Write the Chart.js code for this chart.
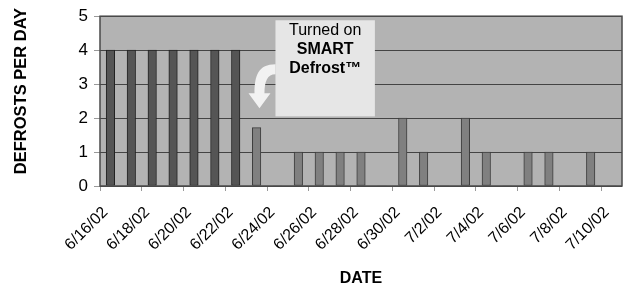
<!DOCTYPE html>
<html lang="en">
<head>
  <meta charset="utf-8" />
  <title>Defrosts per day</title>
  <script src="https://cdn.jsdelivr.net/npm/chart.js"></script>
  <style>
    * { box-sizing: border-box; margin: 0; padding: 0; }
    body { background: #fff; width: 623px; height: 288px; overflow: hidden; }
    #wrap { position: relative; width: 623px; height: 288px; }
  </style>
</head>
<body>
  <div id="wrap"><canvas id="chart"></canvas></div>

  <script>
    const dates = [
      '6/16/02', '6/17/02', '6/18/02', '6/19/02', '6/20/02', '6/21/02', '6/22/02',
      '6/23/02', '6/24/02', '6/25/02', '6/26/02', '6/27/02', '6/28/02', '6/29/02',
      '6/30/02', '7/1/02', '7/2/02', '7/3/02', '7/4/02', '7/5/02', '7/6/02',
      '7/7/02', '7/8/02', '7/9/02', '7/10/02'
    ];
    const defrosts = [4, 4, 4, 4, 4, 4, 4, 1.72, 0, 1, 1, 1, 1, 0, 2, 1, 0, 2, 1, 0, 1, 1, 0, 1, 0];
    const smartStart = 7; // first day with SMART Defrost on
    const yTicks = [0, 1, 2, 3, 4, 5];
    const noteLines = ['Turned on', 'SMART', 'Defrost™'];

    const FONT = '"Liberation Sans", Arial, sans-serif';

    // plot background, border, y title and the callout box
    const decor = {
      id: 'decor',
      beforeDraw(chart) {
        const { ctx, chartArea: a } = chart;
        ctx.save();
        ctx.fillStyle = '#b3b3b3';
        ctx.fillRect(a.left, a.top, a.right - a.left, a.bottom - a.top);
        ctx.restore();
      },
      afterDraw(chart) {
        const { ctx, chartArea: a, scales: { x, y } } = chart;
        ctx.save();
        ctx.strokeStyle = '#4a4a4a';
        ctx.lineWidth = 1.5;
        ctx.strokeRect(a.left, a.top, a.right - a.left, a.bottom - a.top);

        // y title
        ctx.translate(21, 91);
        ctx.rotate(-Math.PI / 2);
        ctx.fillStyle = '#000';
        ctx.font = 'bold 16.5px ' + FONT;
        ctx.textAlign = 'center';
        ctx.textBaseline = 'middle';
        ctx.fillText('DEFROSTS PER DAY', 0, 0);
        ctx.restore();

        // callout
        const bl = x.getPixelForValue(8) - 2;
        const br = x.getPixelForValue(13) - 7;
        const bt = y.getPixelForValue(4.88);
        const bb = y.getPixelForValue(2.05);
        ctx.save();
        ctx.fillStyle = '#e6e6e6';
        ctx.fillRect(bl, bt, br - bl, bb - bt);

        ctx.fillStyle = '#000';
        ctx.textAlign = 'center';
        ctx.textBaseline = 'middle';
        const cx = (bl + br) / 2;
        noteLines.forEach((t, i) => {
          ctx.font = (i === 0 ? '' : 'bold ') + '16px ' + FONT;
          ctx.fillText(t, cx, bt + 10 + i * 19);
        });

        // curved arrow
        ctx.fillStyle = '#f2f2f2';
        ctx.beginPath();
        ctx.moveTo(bl, bt + 44);
        ctx.bezierCurveTo(bl - 17, bt + 44, bl - 21, bt + 55, bl - 21, bt + 73);
        ctx.lineTo(bl - 27, bt + 73);
        ctx.lineTo(bl - 16, bt + 88);
        ctx.lineTo(bl - 5, bt + 73);
        ctx.lineTo(bl - 11, bt + 73);
        ctx.bezierCurveTo(bl - 11, bt + 61, bl - 8, bt + 54, bl, bt + 54);
        ctx.closePath();
        ctx.fill();
        ctx.restore();
      }
    };

    new Chart('chart', {
      type: 'bar',
      data: {
        labels: dates,
        datasets: [{
          data: defrosts,
          backgroundColor: defrosts.map((v, i) => i < smartStart ? '#555555' : '#808080'),
          borderColor: defrosts.map((v, i) => i < smartStart ? '#222222' : '#3c3c3c'),
          borderWidth: defrosts.map(v => v ? 1 : 0),
          borderSkipped: false,
          barThickness: 8.5
        }]
      },
      options: {
        responsive: true,
        maintainAspectRatio: false,
        animation: false,
        layout: { padding: { top: 12, right: 1, bottom: 0, left: 0 } },
        plugins: { legend: { display: false }, tooltip: { enabled: false } },
        scales: {
          x: {
            offset: true,
            afterFit: s => { s.height = 102; s.paddingLeft = 0; s.paddingRight = 0; },
            grid: {
              offset: true,
              drawOnChartArea: false,
              tickLength: 5,
              tickColor: ctx => ctx.index % 2 === 0 ? '#999999' : 'rgba(0,0,0,0)'
            },
            border: { display: false },
            ticks: {
              autoSkip: false,
              minRotation: 45,
              maxRotation: 45,
              padding: 12,
              labelOffset: -5,
              color: '#000',
              font: { family: FONT, size: 16 },
              callback: (v, i) => i % 2 === 0 ? dates[i] : ''
            },
            title: {
              display: true,
              text: 'DATE',
              color: '#000',
              font: { family: FONT, size: 16, weight: 'bold' },
              padding: { top: 0, bottom: 0 }
            }
          },
          y: {
            min: yTicks[0],
            max: yTicks[yTicks.length - 1],
            afterFit: s => { s.width = 100; },
            afterBuildTicks: s => { s.ticks = yTicks.map(v => ({ value: v })); },
            grid: { color: '#444444', tickColor: '#999999', tickLength: 6 },
            border: { display: false },
            ticks: {
              padding: 6,
              color: '#000',
              font: { family: FONT, size: 17 }
            }
          }
        }
      },
      plugins: [decor]
    });
  </script>
</body>
</html>
